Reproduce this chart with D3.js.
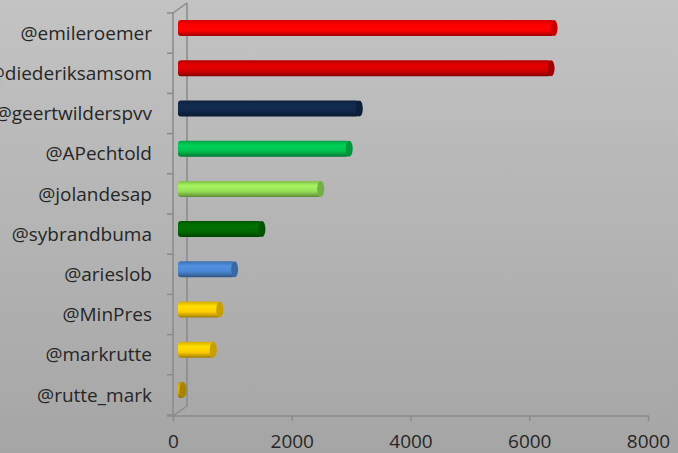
<!DOCTYPE html>
<html>
<head>
<meta charset="utf-8">
<script src="https://cdn.jsdelivr.net/npm/d3@7"></script>
<style>
  body { margin: 0; overflow: hidden; }
  svg text { font-family: "Open Sans", Calibri, sans-serif; fill: #262626; }
</style>
</head>
<body>
<div id="chart"></div>
<script>
var width = 678,
  height = 453;

// data (followers per account)
var accounts = ['@emileroemer', '@diederiksamsom', '@geertwilderspvv', '@APechtold',
  '@jolandesap', '@sybrandbuma', '@arieslob', '@MinPres', '@markrutte', '@rutte_mark'];
var counts = [6300, 6250, 3020, 2850, 2370, 1380, 920, 670, 560, 50];
var barColors = ['#ff0000', '#d40000', '#10284a', '#00c050', '#98e058',
  '#006a00', '#4a86d0', '#ffcc00', '#ffcc00', '#d8a800'];
var xTicks = [0, 2000, 4000, 6000, 8000];

// 3d depth offset of the back wall
var depthX = 14, depthY = -10;

var svg = d3.select('#chart')
  .append('svg')
  .attr('width', width)
  .attr('height', height);

var defs = svg.append('defs');

var bg = defs.append('linearGradient')
  .attr('id', 'bg')
  .attr('x1', 0).attr('y1', 0).attr('x2', 0).attr('y2', 1);
bg.append('stop').attr('offset', '0%').attr('stop-color', '#c3c3c3');
bg.append('stop').attr('offset', '100%').attr('stop-color', '#a5a5a5');

svg.append('rect')
  .attr('width', width)
  .attr('height', height)
  .attr('fill', 'url(#bg)');

var xScale = d3.scaleLinear().domain([0, 8000]).range([173, 648]);
var yScale = d3.scaleBand().domain(accounts).range([13, 415]);

var axisColor = '#8a8a8a';

// floor / wall frame
var frame = svg.append('g').attr('stroke', axisColor).attr('stroke-width', 1.5).attr('fill', 'none');
frame.append('line')
  .attr('x1', xScale(0)).attr('y1', 13).attr('x2', xScale(0)).attr('y2', 416);
frame.append('line')
  .attr('x1', xScale(0) + depthX).attr('y1', 13 + depthY)
  .attr('x2', xScale(0) + depthX).attr('y2', 416 + depthY);
frame.append('line')
  .attr('x1', xScale(0)).attr('y1', 13)
  .attr('x2', xScale(0) + depthX).attr('y2', 13 + depthY);
frame.append('line')
  .attr('x1', xScale(0)).attr('y1', 416)
  .attr('x2', xScale(0) + depthX).attr('y2', 416 + depthY);

// category boundary ticks on the left
var bounds = accounts.map(function (d) { return yScale(d); }).concat([415]);
frame.selectAll('.ctick')
  .data(bounds)
  .enter()
  .append('line')
  .attr('x1', xScale(0) - 6).attr('x2', xScale(0))
  .attr('y1', function (d) { return d; })
  .attr('y2', function (d) { return d; });

// x axis
var xAxis = d3.axisBottom(xScale)
  .tickValues(xTicks)
  .tickFormat(d3.format('d'))
  .tickSize(5).tickPadding(14).tickSizeOuter(0);
var gx = svg.append('g')
  .attr('transform', 'translate(0, 416)')
  .call(xAxis);
gx.select('.domain').attr('stroke', axisColor).attr('stroke-width', 1.5)
  .attr('d', 'M167,0H649');
gx.selectAll('.tick line').attr('stroke', axisColor).attr('stroke-width', 1.5);
gx.selectAll('.tick text').attr('font-size', 19).attr('fill', '#262626');

// y labels
svg.append('g')
  .selectAll('text')
  .data(accounts)
  .enter()
  .append('text')
  .attr('x', 152)
  .attr('y', function (d) { return yScale(d) + yScale.bandwidth() / 2; })
  .attr('dy', '0.35em')
  .attr('text-anchor', 'end')
  .attr('font-size', 19)
  .text(function (d) { return d; });

// cylinder gradients
barColors.forEach(function (c, i) {
  var base = d3.color(c);
  var g = defs.append('linearGradient')
    .attr('id', 'cyl' + i)
    .attr('x1', 0).attr('y1', 0).attr('x2', 0).attr('y2', 1);
  g.append('stop').attr('offset', '0%').attr('stop-color', base.darker(0.5));
  g.append('stop').attr('offset', '30%').attr('stop-color', base.brighter(0.25));
  g.append('stop').attr('offset', '65%').attr('stop-color', base);
  g.append('stop').attr('offset', '100%').attr('stop-color', base.darker(1.3));
});

var barH = 16;
var barDx = depthX / 2, barDy = depthY / 2;

var bars = svg.append('g')
  .selectAll('g')
  .data(counts)
  .enter()
  .append('g');

bars.append('rect')
  .attr('x', xScale(0) + barDx - 2)
  .attr('y', function (d, i) { return yScale(accounts[i]) + yScale.bandwidth() / 2 + barDy - barH / 2; })
  .attr('width', function (d) { return Math.max(xScale(d) - xScale(0) + 2, 1); })
  .attr('height', barH)
  .attr('rx', 3)
  .attr('fill', function (d, i) { return 'url(#cyl' + i + ')'; });

bars.append('ellipse')
  .attr('cx', function (d) { return xScale(d) + barDx; })
  .attr('cy', function (d, i) { return yScale(accounts[i]) + yScale.bandwidth() / 2 + barDy; })
  .attr('rx', 3.5)
  .attr('ry', barH / 2)
  .attr('fill', function (d, i) { return d3.color(barColors[i]).darker(0.7); });
</script>
</body>
</html>
